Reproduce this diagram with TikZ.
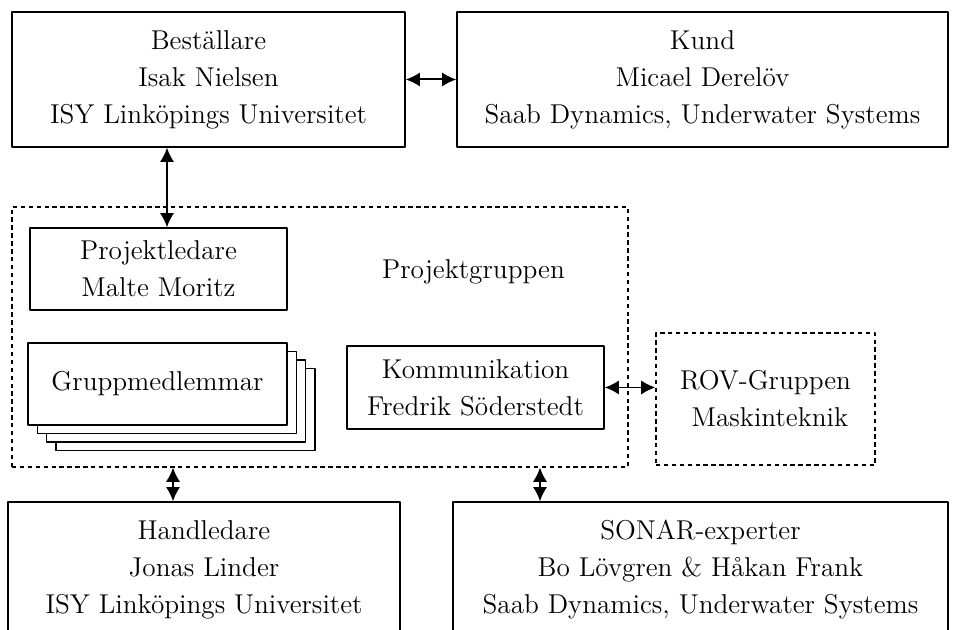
\documentclass[tikz,border=0pt]{standalone}
\usepackage{tikz}
\usetikzlibrary{arrows.meta}

\begin{document}
\begin{tikzpicture}[line cap=round,line join=round,>={Latex[length=6.5pt,width=6.5pt]},x=1cm,y=1cm,
	box/.style={draw,line width=0.6pt,inner sep=0pt,align=center,font=\fontsize{12.4pt}{16.8pt}\selectfont},
	dbox/.style={box,line width=0.5pt,line cap=butt,dash pattern=on 2pt off 1.6pt},
	pil/.style={<->,line width=0.9pt}]
	\useasboundingbox (0,0) rectangle (15.344,10.08);
	\clip (0,0) rectangle (15.344,10.08);
	%%%% OVERST
	\node[box,minimum width=6.288cm,minimum height=2.16cm] (bestallare) at (3.336,8.808)
		{Beställare\\Isak Nielsen\\ISY Linköpings Universitet};
	\node[box,minimum width=7.856cm,minimum height=2.16cm] (kund) at (11.24,8.808)
		{Kund\\Micael Derelöv\\Saab Dynamics, Underwater Systems};
	\draw[pil] (bestallare.east) -- (kund.west);
	
	%%%% PROJEKTGRUPPEN
	\node[dbox,minimum width=9.856cm,minimum height=4.16cm] (projektgruppen) at (5.12,4.688) {};
	\node[font=\fontsize{12.4pt}{16.8pt}\selectfont] (pgtext) at (7.576,5.728) {Projektgruppen};
	\node[box,minimum width=4.112cm,minimum height=1.312cm] (projektledare) at (2.536,5.776)
		{Projektledare\\Malte Moritz};
	
	% gruppmedlemmar, tre kopior bakom
	\foreach \i in {3,2,1}
		\node[box,fill=white,minimum width=4.144cm,minimum height=1.312cm] (grupp\i) at (2.52+0.15*\i,3.936-0.135*\i) {};
	\node[box,fill=white,minimum width=4.144cm,minimum height=1.312cm] (grupp) at (2.52,3.936) {Gruppmedlemmar};
	
	\node[box,minimum width=4.112cm,minimum height=1.328cm] (kommunikation) at (7.608,3.88)
		{Kommunikation\\Fredrik Söderstedt};
	
	%%%% ROV
	\node[dbox,minimum width=3.504cm,minimum height=2.112cm] (rov) at (12.248,3.696)
		{ROV-Gruppen\\\ Maskinteknik};
	\draw[pil] (kommunikation.east) -- (kommunikation.east -| rov.west);
	
	\coordinate (pltop) at ([xshift=0.136cm]projektledare.north);
	\draw[pil] (pltop |- bestallare.south) -- (pltop);
	
	%%%% NEDERST
	\node[box,minimum width=6.272cm,minimum height=2.16cm] (handledare) at (3.264,0.968)
		{Handledare\\Jonas Linder\\ISY Linköpings Universitet};
	\node[box,minimum width=7.92cm,minimum height=2.16cm] (sonar) at (11.208,0.968)
		{SONAR-experter\\Bo Lövgren \& Håkan Frank\\Saab Dynamics, Underwater Systems};
	
	\coordinate (hdtop) at ([xshift=-0.496cm]handledare.north);
	\draw[pil] (hdtop |- projektgruppen.south) -- (hdtop);
	\coordinate (sotop) at ([xshift=3.52cm]projektgruppen.south);
	\draw[pil] (sotop) -- (sotop |- sonar.north);
\end{tikzpicture}
\end{document}
